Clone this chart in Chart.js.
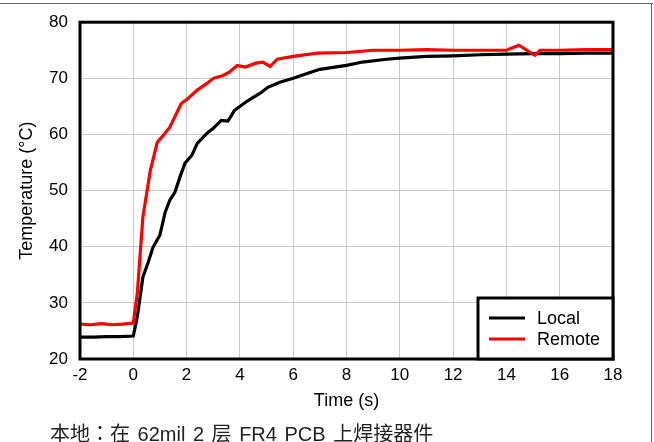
<!DOCTYPE html>
<html>
<head>
<meta charset="utf-8">
<script src="https://cdn.jsdelivr.net/npm/chart.js@4"></script>
<style>
  html, body { margin:0; padding:0; background:#fff; }
  #wrap { position:relative; width:654px; height:442px; overflow:hidden; }
  #c { position:absolute; left:0; top:0; }
  #topline { position:absolute; left:0; top:3px; width:653px; height:0; border-top:1.5px solid #666; }
  #rightline { position:absolute; left:651px; top:3px; width:0; height:439px; border-left:1.5px solid #666; }
  #caption { position:absolute; left:50px; top:418px; font-family:"Liberation Sans","Noto Sans CJK SC",sans-serif; font-size:20px; color:#222; white-space:nowrap; word-spacing:2px; }
  #caption .colon { font-family:"Noto Sans CJK TC"; }
</style>
</head>
<body>
<div id="wrap">
  <canvas id="c" width="654" height="442"></canvas>
  <div id="topline"></div>
  <div id="rightline"></div>
  <div id="caption">本地<span class="colon">：</span>在 62mil 2 层 FR4 PCB 上焊接器件</div>
</div>
<script>
const seriesNames = ["Local", "Remote"];
const seriesColors = ["#000000", "#ff0000"];

const timeLocal = [-2, -1.5, -1, -0.5, 0, 0.15, 0.36, 0.55, 0.74, 1.0, 1.2, 1.37, 1.56, 1.75, 1.94, 2.2, 2.4, 2.76, 3.0, 3.3, 3.55, 3.8, 4.2, 4.5, 4.75, 5.05, 5.5, 6.0, 6.55, 7.0, 8.0, 8.6, 9.5, 10, 11, 12, 13, 14, 15, 16, 17, 18];
const tempLocal = [23.9, 23.9, 24.0, 24.0, 24.1, 27.5, 34.6, 37.1, 39.9, 42.1, 46.2, 48.3, 49.7, 52.4, 54.9, 56.3, 58.4, 60.2, 61.1, 62.5, 62.4, 64.3, 65.7, 66.6, 67.3, 68.4, 69.3, 70.0, 70.9, 71.6, 72.3, 72.9, 73.4, 73.6, 73.9, 74.0, 74.2, 74.3, 74.4, 74.4, 74.5, 74.5];

const timeRemote = [-2, -1.6, -1.2, -0.8, -0.4, 0, 0.15, 0.36, 0.64, 0.9, 1.1, 1.37, 1.8, 2.05, 2.4, 2.76, 3.0, 3.37, 3.6, 3.9, 4.2, 4.6, 4.87, 5.13, 5.4, 6.0, 6.9, 8.0, 9.0, 10.0, 11.0, 12.0, 13.0, 14.0, 14.47, 15.07, 15.26, 16, 17, 18];
const tempRemote = [26.2, 26.1, 26.3, 26.1, 26.2, 26.4, 31.7, 45.3, 53.6, 58.6, 59.7, 61.3, 65.5, 66.4, 67.9, 69.1, 70.0, 70.5, 71.1, 72.3, 72.0, 72.7, 72.9, 72.1, 73.4, 73.9, 74.5, 74.6, 75.0, 75.0, 75.1, 75.0, 75.0, 75.0, 75.9, 74.1, 75.0, 75.0, 75.1, 75.1];

const xTicks = [-2, 0, 2, 4, 6, 8, 10, 12, 14, 16, 18];
const yTicks = [20, 30, 40, 50, 60, 70, 80];
const xTitle = "Time (s)";
const yTitle = "Temperature (\u00B0C)";

const FONT = "'Liberation Sans', Arial, sans-serif";

function pts(xs, ys) { return xs.map((x, i) => ({ x: x, y: ys[i] })); }

const frameAndLegend = {
  id: 'frameAndLegend',
  afterDatasetsDraw(chart) {
    const ctx = chart.ctx;
    const a = chart.chartArea;
    ctx.save();
    ctx.strokeStyle = '#000';
    ctx.lineWidth = 3;
    ctx.strokeRect(a.left, a.top, a.right - a.left, a.bottom - a.top);
    const bw = 135, bh = 61;
    const bx = a.right - bw, by = a.bottom - bh;
    ctx.fillStyle = '#fff';
    ctx.fillRect(bx, by, bw, bh);
    ctx.lineWidth = 3;
    ctx.strokeRect(bx, by, bw, bh);
    ctx.font = "18px " + FONT;
    ctx.textBaseline = 'middle';
    chart.data.datasets.forEach((ds, i) => {
      const ly = by + 20 + i * 21;
      ctx.strokeStyle = ds.borderColor;
      ctx.lineWidth = 3;
      ctx.beginPath();
      ctx.moveTo(bx + 11, ly);
      ctx.lineTo(bx + 47, ly);
      ctx.stroke();
      ctx.fillStyle = '#000';
      ctx.fillText(ds.label, bx + 59, ly + 1);
    });
    ctx.restore();
  }
};

new Chart(document.getElementById('c'), {
  type: 'line',
  data: {
    datasets: [
      { label: seriesNames[0], data: pts(timeLocal, tempLocal), borderColor: seriesColors[0], backgroundColor: seriesColors[0], borderWidth: 3.2, pointRadius: 0, tension: 0, order: 1 },
      { label: seriesNames[1], data: pts(timeRemote, tempRemote), borderColor: seriesColors[1], backgroundColor: seriesColors[1], borderWidth: 3.2, pointRadius: 0, tension: 0, order: 0 }
    ]
  },
  options: {
    responsive: false,
    animation: false,
    devicePixelRatio: 1,
    layout: { padding: { top: 12, right: 41, bottom: 28, left: 0 } },
    plugins: { legend: { display: false }, tooltip: { enabled: false }, title: { display: false } },
    scales: {
      x: {
        type: 'linear', min: -2, max: 18,
        afterBuildTicks: (s) => { s.ticks = xTicks.map(v => ({ value: v })); },
        afterFit: (s) => { s.height = 55; },
        ticks: { color: '#000', font: { size: 17, family: FONT }, padding: 6, maxRotation: 0 },
        grid: { color: '#c8c8c8', lineWidth: 1, drawTicks: false },
        border: { display: false },
        title: { display: true, text: xTitle, color: '#000', font: { size: 18, family: FONT }, padding: { top: 0, bottom: 2 } }
      },
      y: {
        type: 'linear', min: 20, max: 80,
        afterBuildTicks: (s) => { s.ticks = yTicks.map(v => ({ value: v })); },
        afterFit: (s) => { s.width = 80; },
        ticks: { color: '#000', font: { size: 17, family: FONT }, padding: 12 },
        grid: { color: '#c8c8c8', lineWidth: 1, drawTicks: false },
        border: { display: false },
        title: { display: true, text: yTitle, color: '#000', font: { size: 18, family: FONT }, padding: { top: 16, bottom: 0 } }
      }
    }
  },
  plugins: [frameAndLegend]
});
</script>
</body>
</html>
